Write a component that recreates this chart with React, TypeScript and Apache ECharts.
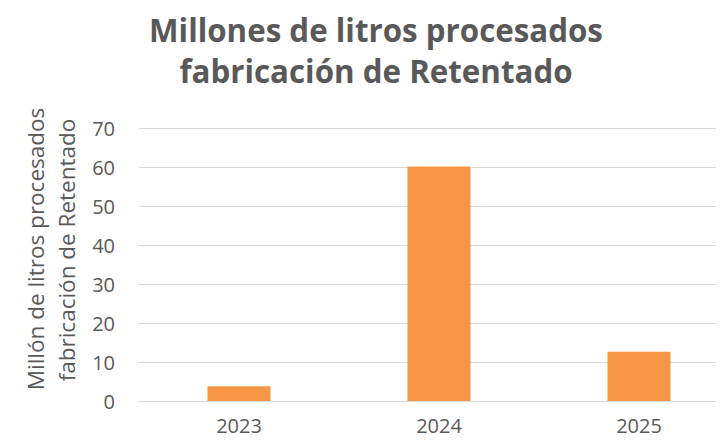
import React, { useEffect, useRef } from "react";
import * as echarts from "echarts";

const categories = ["2023", "2024", "2025"];
const values = [3.8, 60.1, 12.6];
const titleLines = ["Millones de litros procesados", "fabricación de Retentado"];
const yAxisNameLines = ["Millón de litros procesados", "fabricación de Retentado"];

export default function App() {
  const ref = useRef<HTMLDivElement>(null);
  useEffect(() => {
    if (!ref.current) return;
    const chart = echarts.init(ref.current, null, { renderer: "svg" });
    const nameStyle = {
      fill: "#595959",
      fontSize: 22.5,
      fontFamily: "Open Sans",
      textAlign: "center",
      textVerticalAlign: "middle",
    };
    chart.setOption({
      animation: false,
      title: {
        text: titleLines.join("\n"),
        left: 371,
        textAlign: "center",
        top: 4,
        textStyle: {
          fontFamily: "Open Sans",
          fontWeight: "bold",
          fontSize: 31.3,
          lineHeight: 41,
          color: "#595959",
        },
      },
      graphic: [
        {
          type: "text",
          x: 35,
          y: 249,
          rotation: Math.PI / 2,
          style: { ...nameStyle, text: yAxisNameLines[0] },
        },
        {
          type: "text",
          x: 66,
          y: 250,
          rotation: Math.PI / 2,
          style: { ...nameStyle, text: yAxisNameLines[1] },
        },
      ],
      grid: { left: 139, right: 0, top: 128, bottom: 40 },
      xAxis: {
        type: "category",
        data: categories,
        axisLine: { lineStyle: { color: "#d9d9d9", width: 1 } },
        axisTick: { show: false },
        axisLabel: { color: "#595959", fontSize: 20, fontFamily: "Open Sans", margin: 14 },
      },
      yAxis: {
        type: "value",
        min: 0,
        max: 70,
        interval: 10,
        axisLine: { show: false },
        axisTick: { show: false },
        splitLine: { lineStyle: { color: "#d9d9d9", width: 1 } },
        axisLabel: { color: "#595959", fontSize: 20, fontFamily: "Open Sans", margin: 24 },
      },
      series: [
        {
          type: "bar",
          data: values,
          barWidth: 63,
          itemStyle: { color: "#f79646" },
        },
      ],
    });
    return () => chart.dispose();
  }, []);
  return (
    <div style={{ width: 724, height: 441, margin: -8, overflow: "hidden", position: "relative" }}>
      <div ref={ref} style={{ width: 739, height: 441 }} />
    </div>
  );
}
